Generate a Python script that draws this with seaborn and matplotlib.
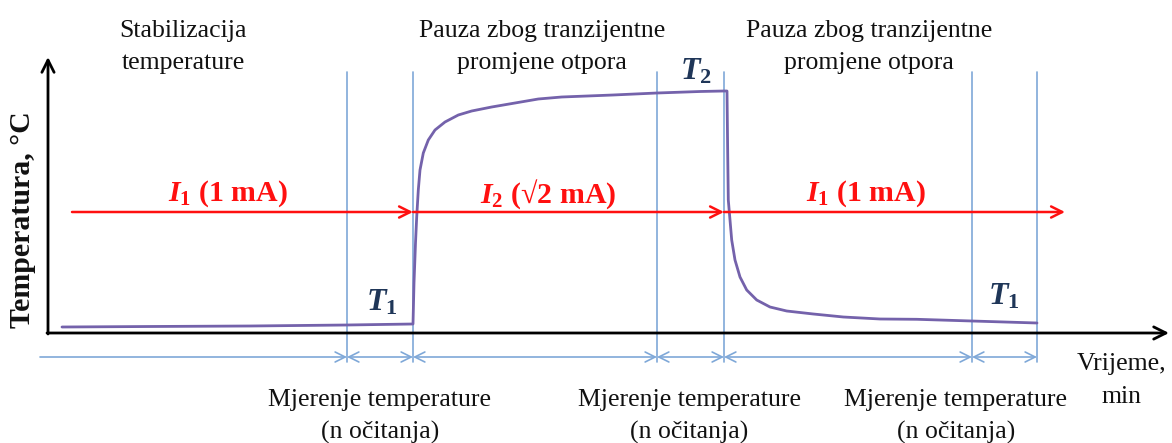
import matplotlib
matplotlib.use("Agg")
import matplotlib.pyplot as plt
import seaborn as sns
import pandas as pd

# Temperature response (time in min, temperature in arbitrary °C units)
time = [1.4, 10.2, 20.2, 29.9, 36.5,
        36.6, 36.75, 36.87, 37.03, 37.2, 37.53, 38.03, 38.7, 39.7, 41.03, 42.37,
        44.37, 46.7, 49.03, 51.37, 56.5, 60.9, 65.2, 67.6,
        67.9, 67.97, 68.03, 68.2, 68.37, 68.7, 69.2, 69.87, 70.87, 72.2, 73.87,
        76.53, 79.53, 83.2, 86.87, 92.4, 98.9]
temp = [0.6, 0.65, 0.7, 0.8, 0.9,
        5.0, 9.0, 11.6, 14.3, 16.3, 18.0, 19.3, 20.3, 21.1, 21.8, 22.2,
        22.6, 23.0, 23.4, 23.6, 23.8, 24.0, 24.15, 24.2,
        24.2, 18.0, 13.3, 11.3, 9.3, 7.3, 5.6, 4.3, 3.3, 2.6, 2.2,
        1.9, 1.6, 1.4, 1.37, 1.2, 1.0]

# Phase boundaries (min)
boundaries = [29.9, 36.5, 60.9, 67.6, 92.4, 98.9]

# Applied currents
current_labels = [r"$I_1$ (1 mA)", r"$I_2$ (√2 mA)", r"$I_1$ (1 mA)"]
current_spans = [(2.4, 36.5), (36.5, 67.6), (67.6, 101.7)]
current_label_x = [18.0, 50.0, 81.8]

phase_labels = ["Stabilizacija\ntemperature",
                "Pauza zbog tranzijentne\npromjene otpora",
                "Pauza zbog tranzijentne\npromjene otpora"]
phase_label_x = [13.5, 49.4, 82.1]

measure_label = "Mjerenje temperature\n(n očitanja)"
measure_label_x = [33.2, 64.1, 90.8]

temp_marks = [r"$T_1$", r"$T_2$", r"$T_1$"]
temp_mark_pos = [(33.4, 3.0), (64.8, 26.1), (95.6, 3.6)]

sns.set_theme(style="white")
plt.rcParams["font.family"] = ["Liberation Serif", "DejaVu Serif"]
plt.rcParams["mathtext.fontset"] = "custom"
plt.rcParams["mathtext.rm"] = "Liberation Serif:bold"
plt.rcParams["mathtext.bf"] = "Liberation Serif:bold"
plt.rcParams["mathtext.it"] = "Liberation Serif:bold:italic"

fig = plt.figure(figsize=(11.72, 4.43), dpi=100)
ax = fig.add_axes([0, 0, 1, 1])
ax.set_xlim(-4.8, 112.4)
ax.set_ylim(-11, 33.3)
ax.axis("off")

blue = "#7fa8d8"
purple = "#7462ab"
red = "#ff1010"
navy = "#1f3658"
ink = "#111111"

# Phase boundary lines
for b in boundaries:
    ax.plot([b, b], [-2.9, 26.1], color=blue, lw=1.2, zorder=1)

# Temperature curve
df = pd.DataFrame({"t": time, "T": temp})
sns.lineplot(data=df, x="t", y="T", ax=ax, color=purple, lw=2.0,
             estimator=None, sort=False, zorder=3)

# Axes with arrowheads
ax.annotate("", xy=(0, 27.6), xytext=(0, -0.1),
            arrowprops=dict(arrowstyle="->", lw=2.0, color="black",
                            mutation_scale=22, shrinkA=0, shrinkB=0))
ax.annotate("", xy=(112.1, 0), xytext=(-0.1, 0),
            arrowprops=dict(arrowstyle="->", lw=2.0, color="black",
                            mutation_scale=22, shrinkA=0, shrinkB=0))

# Dimension line along the time axis
dim_y = -2.4
ax.annotate("", xy=(boundaries[0], dim_y), xytext=(-0.8, dim_y),
            arrowprops=dict(arrowstyle="->", lw=1.2, color=blue,
                            mutation_scale=18, shrinkA=0, shrinkB=0))
for a, b in zip(boundaries[:-1], boundaries[1:]):
    ax.annotate("", xy=(b, dim_y), xytext=(a, dim_y),
                arrowprops=dict(arrowstyle="<->", lw=1.2, color=blue,
                                mutation_scale=18, shrinkA=0, shrinkB=0))

# Current arrows and labels
for (a, b), lab, lx in zip(current_spans, current_labels, current_label_x):
    ax.annotate("", xy=(b, 12.1), xytext=(a, 12.1),
                arrowprops=dict(arrowstyle="->", lw=1.8, color=red,
                                mutation_scale=20, shrinkA=0, shrinkB=0),
                zorder=4)
    ax.text(lx, 13.9, lab, color=red, fontsize=21.5, fontweight="bold",
            ha="center", va="center")

# Phase labels
for lab, lx in zip(phase_labels, phase_label_x):
    ax.text(lx, 28.6, lab, fontsize=18.5, ha="center", va="center",
            linespacing=1.55, color=ink)

for lx in measure_label_x:
    ax.text(lx, -8.35, measure_label, fontsize=18.5, ha="center", va="center",
            linespacing=1.55, color=ink)

ax.text(107.4, -4.75, "Vrijeme,\nmin", fontsize=18.5, ha="center", va="center",
        linespacing=1.6, color=ink)

for lab, (x, y) in zip(temp_marks, temp_mark_pos):
    ax.text(x, y, lab, color=navy, fontsize=23, ha="center", va="center")

ax.text(-2.5, 11.3, "Temperatura, °C", rotation=90, fontsize=21.5,
        fontweight="bold", ha="center", va="center", color=ink)

fig.savefig("out.png", dpi=100)
